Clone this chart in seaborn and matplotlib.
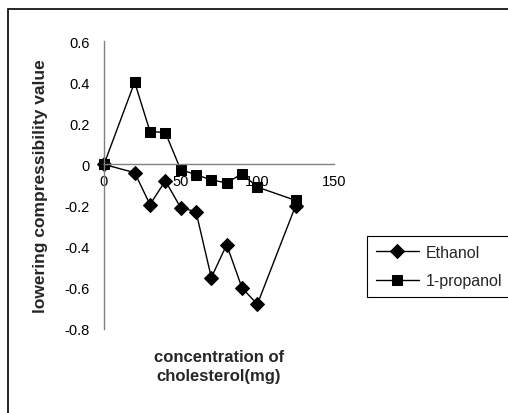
import matplotlib
matplotlib.use("Agg")
import matplotlib.pyplot as plt
import seaborn as sns
import pandas as pd
from matplotlib.patches import Rectangle

conc = [0, 20, 30, 40, 50, 60, 70, 80, 90, 100, 125]
ethanol = [0, -0.04, -0.195, -0.08, -0.21, -0.23, -0.55, -0.39, -0.60, -0.68, -0.20]
propanol = [0, 0.40, 0.16, 0.155, -0.025, -0.05, -0.075, -0.09, -0.045, -0.11, -0.175]
series_names = ["Ethanol", "1-propanol"]
xticks = [0, 50, 100, 150]
yticks = [-0.8, -0.6, -0.4, -0.2, 0, 0.2, 0.4, 0.6]
ytick_labels = ["-0.8", "-0.6", "-0.4", "-0.2", "0", "0.2", "0.4", "0.6"]

df = pd.DataFrame({
    "conc": conc + conc,
    "value": ethanol + propanol,
    "series": [series_names[0]] * len(conc) + [series_names[1]] * len(conc),
})

sns.set_style("white")
plt.rcParams["font.family"] = ["Liberation Sans", "DejaVu Sans"]
plt.rcParams["font.size"] = 10.5

W, H = 508, 414
fig = plt.figure(figsize=(W / 100, H / 100), dpi=100)
ax = fig.add_axes([104 / W, 1 - 330 / H, 230 / W, 288 / H])

sns.lineplot(data=df, x="conc", y="value", hue="series", style="series",
             markers={"Ethanol": "D", "1-propanol": "s"}, dashes=False,
             palette={"Ethanol": "black", "1-propanol": "black"},
             markersize=7, linewidth=1, markeredgecolor="black",
             sort=False, ax=ax, legend=True, clip_on=False)

ax.set_xlim(0, 150)
ax.set_ylim(-0.8, 0.6)
ax.set_xticks(xticks)
ax.set_xticklabels([str(t) for t in xticks])
ax.set_yticks(yticks)
ax.set_yticklabels(ytick_labels)

for s in ["top", "right"]:
    ax.spines[s].set_visible(False)
ax.spines["bottom"].set_position(("data", 0))
for s in ["left", "bottom"]:
    ax.spines[s].set_color("#808080")
    ax.spines[s].set_linewidth(1)
ax.tick_params(axis="both", direction="out", length=4, width=1, color="#808080",
               labelsize=10.5, labelcolor="black")
ax.tick_params(axis="x", pad=3)
ax.tick_params(axis="y", pad=6)
ax.grid(False)

ax.set_ylabel("lowering compressibility value", fontweight="bold", fontsize=12.5)
ax.yaxis.set_label_coords(-0.278, 0.5)
ax.yaxis.label.set_va("center")
ax.set_xlabel("concentration of\ncholesterol(mg)", fontweight="bold", fontsize=12,
              linespacing=1.3)
ax.xaxis.set_label_coords(0.5, -0.128)
ax.xaxis.label.set_va("center")

leg = ax.get_legend()
handles = leg.legend_handles
leg.remove()
fig.legend(handles, series_names, loc="upper left",
           bbox_to_anchor=(367 / W, 1 - 237 / H), frameon=True, fancybox=False,
           edgecolor="black", framealpha=1, fontsize=11.5, handlelength=2.7,
           handletextpad=0.4, borderpad=0.55, labelspacing=0.85, borderaxespad=0)
fl = fig.legends[0]
fl.get_frame().set_linewidth(0.8)

fig.patches.append(Rectangle((8 / W, -0.01), 1.1, 1 - 10 / H + 0.01,
                             transform=fig.transFigure, fill=False,
                             edgecolor="black", linewidth=1.2))

fig.savefig("out.png", dpi=100)
